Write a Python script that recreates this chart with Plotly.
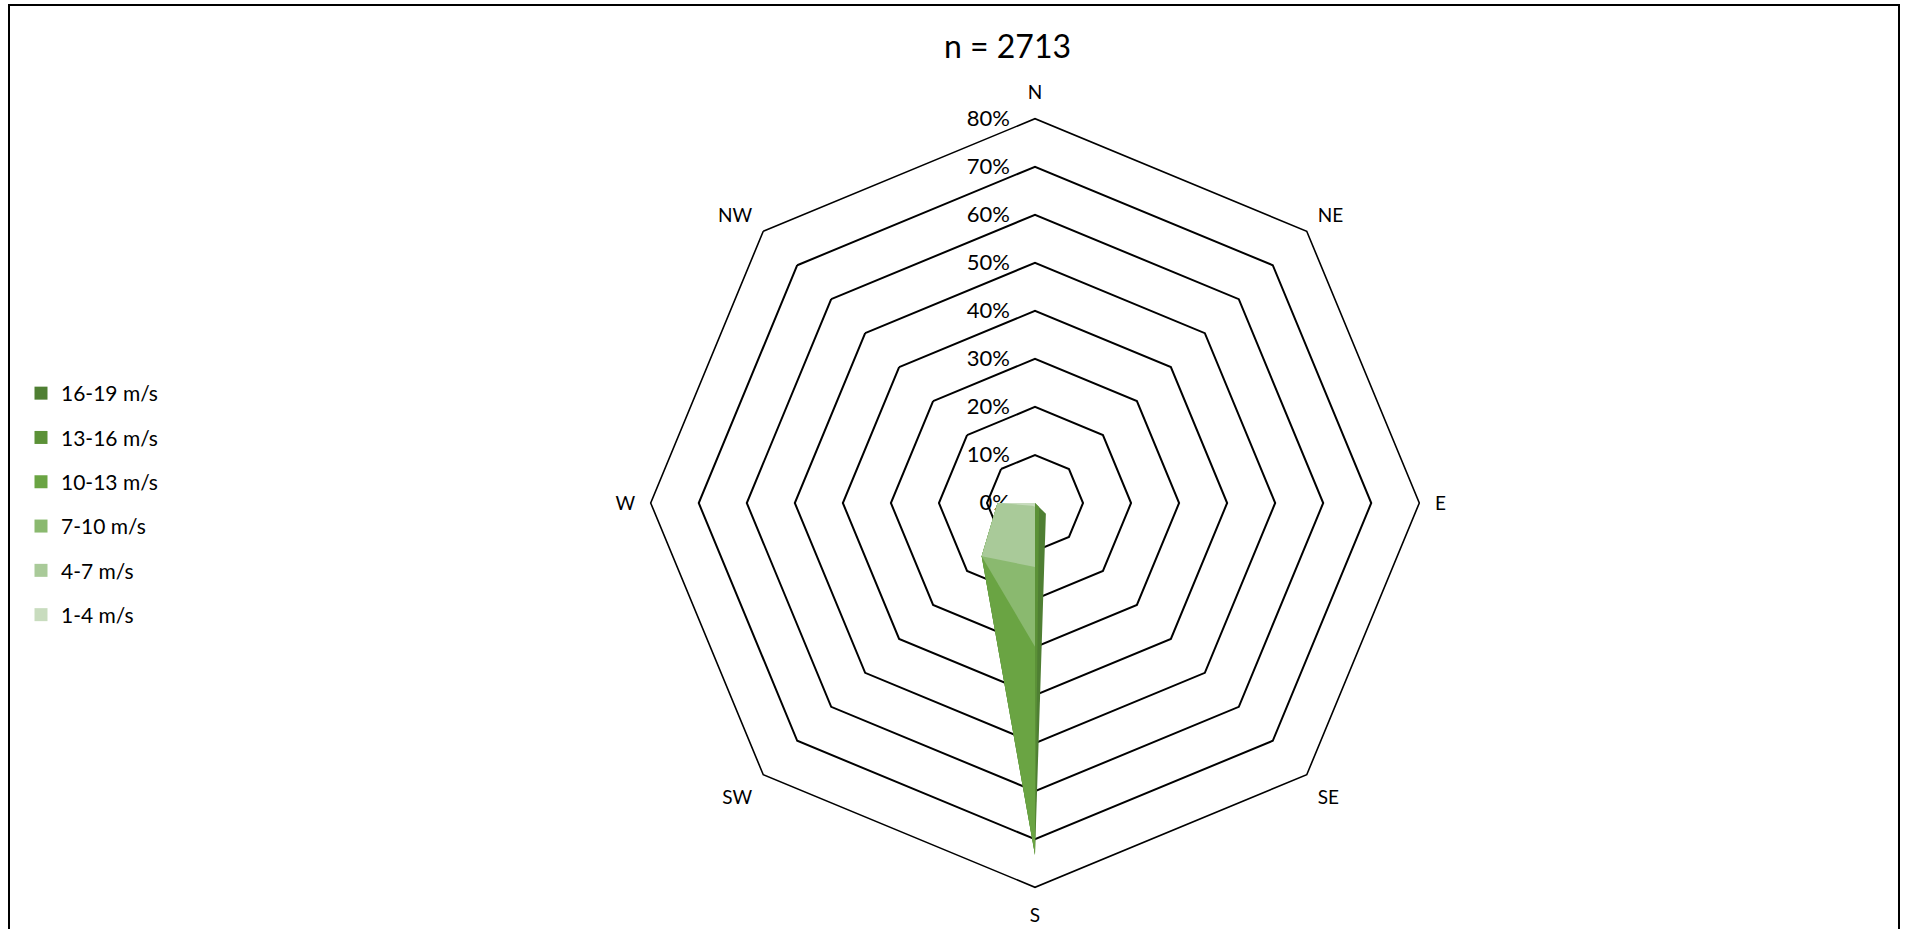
import plotly.graph_objects as go

W, H = 1906, 929

directions = ["N", "NE", "E", "SE", "S", "SW", "W", "NW"]
speed_bins = ["16-19 m/s", "13-16 m/s", "10-13 m/s", "7-10 m/s", "4-7 m/s", "1-4 m/s"]
# cumulative frequency (%) per direction, largest band first (drawn behind)
v_16_19 = [0.0, 0.0, 0.0, 3.2, 73.3, 15.7, 7.8, 0.0]
v_13_16 = [0.0, 0.0, 0.0, 1.2, 73.3, 15.7, 7.8, 0.0]
v_10_13 = [0.0, 0.0, 0.0, 0.0, 73.2, 15.7, 7.8, 0.0]
v_7_10 = [0.0, 0.0, 0.0, 0.0, 29.9, 15.7, 7.8, 0.0]
v_4_7 = [0.0, 0.0, 0.0, 0.0, 13.3, 15.7, 7.8, 0.0]
v_1_4 = [0.0, 0.0, 0.0, 0.0, 0.8, 0.8, 7.5, 0.0]
series_values = [v_16_19, v_13_16, v_10_13, v_7_10, v_4_7, v_1_4]
colors = ["#4f7f33", "#5b9137", "#6aa443", "#8ab96f", "#a9ca99", "#c8dcbe"]
radial_ticks = [0, 10, 20, 30, 40, 50, 60, 70, 80]
radial_labels = [f"{t}%" for t in radial_ticks]
title_text = "n = 2713"

FONT = "Lato, 'Open Sans', sans-serif"

fig = go.Figure()
for name, vals, col in zip(speed_bins, series_values, colors):
    fig.add_trace(go.Scatterpolar(
        r=vals + [vals[0]], theta=directions + [directions[0]],
        mode="lines", line=dict(width=0, color=col),
        fill="toself", fillcolor=col, name=name, showlegend=False,
        hoverinfo="skip"))
# legend entries (square swatches)
for i, (name, col) in enumerate(zip(speed_bins, colors)):
    fig.add_trace(go.Scatterpolar(
        r=[None], theta=["N"], mode="markers", name=name,
        marker=dict(symbol="square", size=13, color=col),
        legendgroup=f"g{i}", showlegend=True))

cx, cy, R = 1035, 503, 384.3
fig.update_layout(
    width=W, height=H, autosize=False,
    margin=dict(l=0, r=0, t=0, b=0),
    paper_bgcolor="white", plot_bgcolor="white",
    font=dict(family=FONT, size=19, color="#000000"),
    showlegend=True,
    legend=dict(x=21 / W, y=1 - 373 / H, xanchor="left", yanchor="top",
                traceorder="grouped", tracegroupgap=14,
                font=dict(family=FONT, size=21, color="#000000"),
                bgcolor="rgba(0,0,0,0)", itemwidth=30),
    polar=dict(
        domain=dict(x=[(cx - R) / W, (cx + R) / W],
                    y=[(H - cy - R) / H, (H - cy + R) / H]),
        bgcolor="white",
        gridshape="linear",
        hole=0,
        angularaxis=dict(
            categoryorder="array", categoryarray=directions,
            rotation=90, direction="clockwise",
            showgrid=False, showline=True, linecolor="#000000", linewidth=1.6,
            ticks="outside", ticklen=11, tickcolor="rgba(0,0,0,0)",
            tickfont=dict(family=FONT, size=19, color="#000000")),
        radialaxis=dict(
            range=[0, 80], tickvals=radial_ticks, ticktext=radial_labels,
            angle=90, tickangle=90, side="counterclockwise",
            showline=False, showgrid=True, gridcolor="#000000", gridwidth=1.6,
            ticks="outside", ticklen=17, tickcolor="rgba(0,0,0,0)",
            tickfont=dict(family=FONT, size=22, color="#000000"),
            layer="below traces"),
    ),
    annotations=[dict(text=title_text, x=1007.5 / W, y=1 - 45 / H,
                      xref="paper", yref="paper", xanchor="center", yanchor="middle",
                      showarrow=False, font=dict(family=FONT, size=32, color="#000000"))],
    shapes=[dict(type="rect", xref="paper", yref="paper",
                 x0=9 / W, x1=1899 / W, y0=-0.05, y1=1 - 5 / H,
                 line=dict(color="#000000", width=2), fillcolor="rgba(0,0,0,0)",
                 layer="below")],
)

fig.write_html("out.html")
